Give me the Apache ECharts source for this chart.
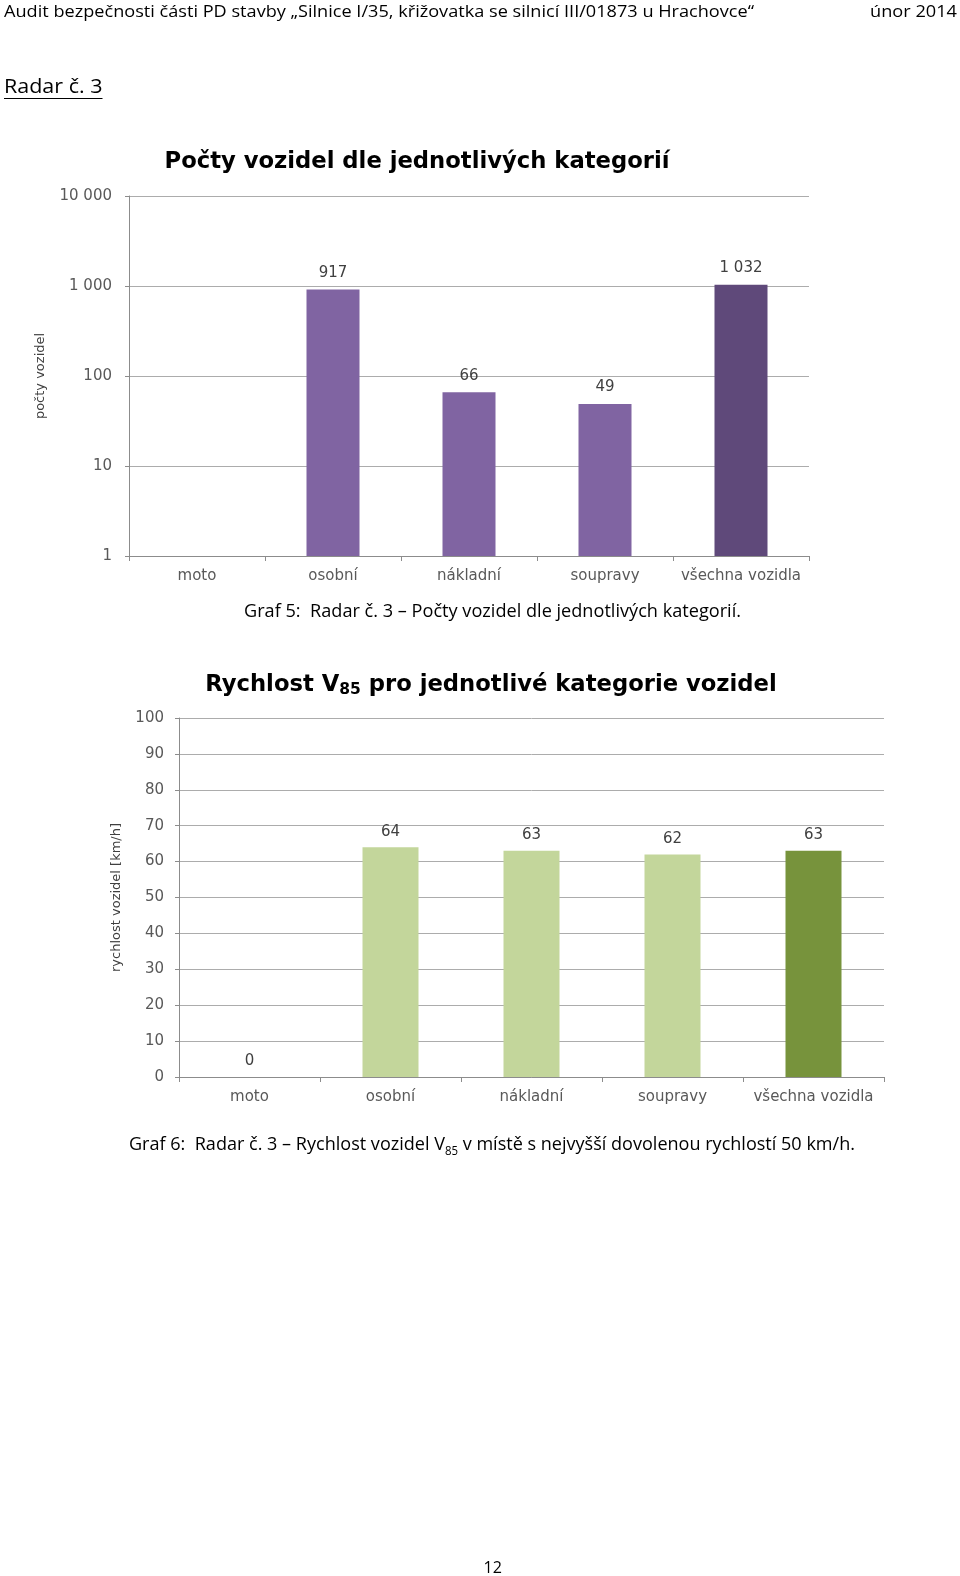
<!DOCTYPE html>
<html><head><meta charset="utf-8">
<script src="https://cdn.jsdelivr.net/npm/echarts@6/dist/echarts.min.js"></script>
<style>html,body{margin:0;padding:0;background:#fff}#main{width:960px;height:1576px}</style>
</head><body><div id="main"></div>
<script>
// ---------- data ----------
const countCategories = ['moto', 'osobní', 'nákladní', 'soupravy', 'všechna vozidla'];
const countValues = [null, 917, 66, 49, 1032];
const countTickLabels = ['1', '10', '100', '1 000', '10 000'];

const speedCategories = ['moto', 'osobní', 'nákladní', 'soupravy', 'všechna vozidla'];
const speedValues = [0, 64, 63, 62, 63];
const speedTickLabels = ['0', '10', '20', '30', '40', '50', '60', '70', '80', '90', '100'];

const headerText = 'Audit bezpečnosti části PD stavby „Silnice I/35, křižovatka se silnicí III/01873 u Hrachovce“';
const headerDate = 'únor 2014';
const sectionTitle = 'Radar č. 3';
const chart1Title = 'Počty vozidel dle jednotlivých kategorií';
const chart1Caption = 'Graf 5:  Radar č. 3 – Počty vozidel dle jednotlivých kategorií.';
const chart2TitleParts = ['Rychlost V', '85', ' pro jednotlivé kategorie vozidel'];
const chart2CaptionParts = ['Graf 6:  Radar č. 3 – Rychlost vozidel V', '85', ' v místě s nejvyšší dovolenou rychlostí 50 km/h.'];
const pageNumber = '12';

// ---------- helpers ----------
const mctx = document.createElement('canvas').getContext('2d');
function fontStr(size, family, weight) { return (weight || 'normal') + ' ' + size + 'px ' + family; }
function measure(t, size, family, weight) { mctx.font = fontStr(size, '"' + family + '"', weight); return mctx.measureText(t).width; }
function fmtThousands(v) { return String(v).replace(/\B(?=(\d{3})+(?!\d))/g, ' '); }

const DOC = 'Open Sans';
const CH = 'DejaVu Sans';
const graphics = [];

function fittedText(t, x, y, size, target, opts) {
  opts = opts || {};
  const w = measure(t, size, DOC, opts.weight);
  const s = target / w;
  graphics.push({ type: 'text', x: x, y: y, scaleX: s, style: {
    text: t, fontFamily: DOC, fontSize: size, fontWeight: opts.weight || 'normal',
    fill: '#000', align: 'left', verticalAlign: 'middle' } });
}
function partsText(parts, x0, y, sizes, dys, family, weight, target, centerX) {
  const ws = parts.map((p, i) => measure(p, sizes[i], family, weight));
  const W = ws.reduce((a, b) => a + b, 0);
  const s = target ? target / W : 1;
  let x = centerX !== undefined ? centerX - W * s / 2 : x0;
  parts.forEach((p, i) => {
    graphics.push({ type: 'text', x: x, y: y + dys[i], scaleX: s, style: {
      text: p, fontFamily: family, fontSize: sizes[i], fontWeight: weight,
      fill: '#000', align: 'left', verticalAlign: 'middle' } });
    x += ws[i] * s;
  });
}

// page texts
fittedText(headerText, 4, 12, 17, 750);
fittedText(headerDate, 870, 12, 17, 87);
fittedText(sectionTitle, 4, 87.5, 20.5, 98.5);
graphics.push({ type: 'line', shape: { x1: 4, y1: 98.5, x2: 102.5, y2: 98.5 }, style: { stroke: '#000', lineWidth: 1.2 } });
fittedText(chart1Caption, 244, 612, 19, 497);
partsText(chart2CaptionParts, 129, 1145, [19, 12, 19], [0, 6.5, 0], DOC, 'normal', 726);
fittedText(pageNumber, 483.5, 1568.5, 16, 18.4);

// chart titles
partsText([chart1Title], 0, 162, [22.7], [0], CH, 'bold', null, 417);
partsText(chart2TitleParts, 0, 685, [22.7, 15.5, 22.7], [0, 5, 0], CH, 'bold', null, 491);

const axisColor = '#8c8c8c';
const gridColor = '#acacac';
const labelColor = '#595959';

function xAx(gi, cats) {
  return { type: 'category', gridIndex: gi, data: cats,
    axisLine: { lineStyle: { color: axisColor } },
    axisTick: { show: true, length: 5, alignWithLabel: false, lineStyle: { color: axisColor } },
    axisLabel: { color: labelColor, fontFamily: CH, fontSize: 15, margin: 13, interval: 0 } };
}

const option = {
  animation: false,
  backgroundColor: '#fff',
  grid: [
    { left: 129, top: 196, width: 680, height: 360 },
    { left: 179, top: 718, width: 705, height: 359 }
  ],
  xAxis: [xAx(0, countCategories), xAx(1, speedCategories)],
  yAxis: [
    { type: 'log', gridIndex: 0, logBase: 10, min: 1, max: 10000,
      axisLine: { show: true, lineStyle: { color: axisColor } },
      axisTick: { show: true, length: 4, lineStyle: { color: axisColor } },
      splitLine: { lineStyle: { color: gridColor } },
      axisLabel: { color: labelColor, fontFamily: CH, fontSize: 15, margin: 17,
        formatter: v => countTickLabels[Math.round(Math.log10(v))] },
      name: 'počty vozidel', nameLocation: 'middle', nameRotate: 90, nameGap: 82,
      nameTextStyle: { color: '#404040', fontFamily: CH, fontSize: 13 } },
    { type: 'value', gridIndex: 1, min: 0, max: 100, interval: 10,
      axisLine: { show: true, lineStyle: { color: axisColor } },
      axisTick: { show: true, length: 4, lineStyle: { color: axisColor } },
      splitLine: { lineStyle: { color: gridColor } },
      axisLabel: { color: labelColor, fontFamily: CH, fontSize: 15, margin: 15,
        formatter: v => speedTickLabels[Math.round(v / 10)] },
      name: 'rychlost vozidel [km/h]', nameLocation: 'middle', nameRotate: 90, nameGap: 56,
      nameTextStyle: { color: '#404040', fontFamily: CH, fontSize: 13 } }
  ],
  series: [
    { type: 'bar', xAxisIndex: 0, yAxisIndex: 0, barWidth: 53,
      data: countValues.map((v, i) => ({ value: v === null ? '-' : v,
        itemStyle: { color: i === countValues.length - 1 ? '#5f497a' : '#8064a2' } })),
      label: { show: true, position: 'top', distance: 9, color: '#404040', fontFamily: CH, fontSize: 15,
        formatter: p => fmtThousands(p.value) } },
    { type: 'bar', xAxisIndex: 1, yAxisIndex: 1, barWidth: 56,
      data: speedValues.map((v, i) => ({ value: v,
        itemStyle: { color: i === speedValues.length - 1 ? '#77933c' : '#c3d69b' } })),
      label: { show: true, position: 'top', distance: 8, color: '#404040', fontFamily: CH, fontSize: 15 } }
  ],
  graphic: graphics
};

const chart = echarts.init(document.getElementById('main'), null, { renderer: 'canvas' });
chart.setOption(option);
</script>
</body></html>
